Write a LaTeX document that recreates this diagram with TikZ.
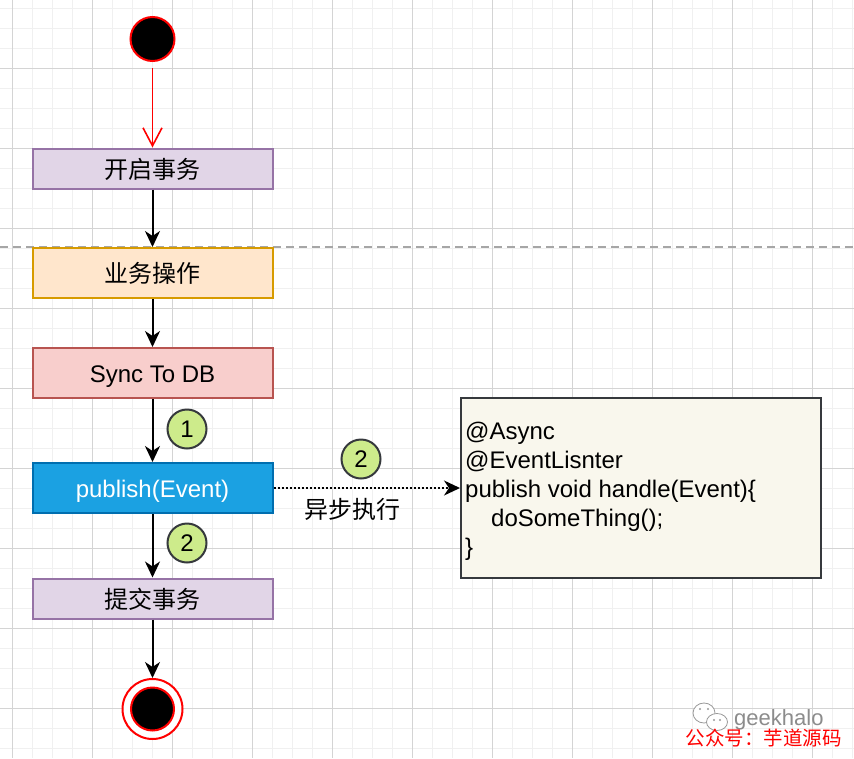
\documentclass[tikz,border=0pt]{standalone}
\usepackage{fontspec}
\setmainfont{Liberation Sans}
\newfontfamily\cjk{Noto Sans CJK SC}
\usetikzlibrary{arrows.meta}
\definecolor{pfill}{HTML}{E1D5E7}\definecolor{pdraw}{HTML}{9673A6}
\definecolor{ofill}{HTML}{FFE6CC}\definecolor{odraw}{HTML}{D79B00}
\definecolor{rfill}{HTML}{F8CECC}\definecolor{rdraw}{HTML}{B85450}
\definecolor{bfill}{HTML}{1BA1E2}\definecolor{bdraw}{HTML}{006EAF}
\definecolor{gfill}{HTML}{CDEB8B}\definecolor{gdraw}{HTML}{36393D}
\definecolor{cfill}{HTML}{F9F7ED}
\definecolor{minorc}{HTML}{F0F0F0}\definecolor{majorc}{HTML}{D4D4D4}
\definecolor{redc}{HTML}{FF0000}
\begin{document}
\begin{tikzpicture}[x=1pt,y=-1pt,
  txt/.style={font=\fontsize{24}{29}\selectfont},
  box/.style={rectangle, draw, line width=2pt, minimum width=240pt, inner sep=0pt, text height=19pt, text depth=0pt, txt},
  startc/.style={circle, fill=black, draw=redc, line width=2pt, minimum size=44pt, inner sep=0pt},
  num/.style={circle, draw=gdraw, fill=gfill, line width=2pt, minimum size=39pt, inner sep=0pt, txt},
  arr/.style={draw=black, line width=2pt, -{Stealth[length=16pt,width=15pt,inset=5pt]}},
  redarr/.style={draw=redc, line width=1.6pt, shorten <=6pt, -{Straight Barb[length=18pt,width=19pt]}},
  minorgrid/.style={draw=minorc, line width=1pt},
  majorgrid/.style={draw=majorc, line width=1pt}]
\useasboundingbox (0,0) rectangle (854,758);
\fill[white] (0,0) rectangle (854,758);
% grid
\foreach \x in {12.5,32.5,...,852.5} \draw[minorgrid] (\x,0) -- (\x,758);
\foreach \y in {8,28,...,748} \draw[minorgrid] (0,\y) -- (854,\y);
\foreach \x in {12.5,92.5,...,812.5} \draw[majorgrid] (\x,0) -- (\x,758);
\foreach \y in {68,148,...,708} \draw[majorgrid] (0,\y) -- (854,\y);
% dashed separator
\draw[draw=gray!70, line width=1.5pt, dash pattern=on 8pt off 5pt] (0,247) -- (854,247);
% nodes
\node[startc] (s) at (152.5,39) {};
\node[box, fill=pfill, draw=pdraw, minimum height=40pt] (a) at (152.5,168.5) {\cjk 开启事务};
\node[box, fill=ofill, draw=odraw, minimum height=50pt] (b) at (152.5,273) {\cjk 业务操作};
\node[box, fill=rfill, draw=rdraw, minimum height=50pt] (d) at (152.5,373) {Sync To DB};
\node[box, fill=bfill, draw=bdraw, minimum height=50pt, text=white] (p) at (152.5,488) {publish(Event)};
\node[box, fill=pfill, draw=pdraw, minimum height=40pt] (e) at (152.5,598.5) {\cjk 提交事务};
\node[circle, fill=white, draw=redc, line width=2pt, minimum size=60pt, inner sep=0pt] (f) at (152.5,709) {};
\node[circle, fill=black, draw=redc, line width=2pt, minimum size=43pt, inner sep=0pt] (fi) at (152.5,709) {};
\node[rectangle, draw=gdraw, fill=cfill, line width=2pt, minimum width=360pt, minimum height=180pt] (c) at (641,488) {};
\node[txt, anchor=west, align=left, inner sep=0pt] (ct) at (465,491) {@Async\\@EventLisnter\\publish void handle(Event)\{\\\hspace*{26pt}doSomeThing();\\\}};
\node[num] (n1) at (187,429) {1};
\node[num] (n2) at (187,543) {2};
\node[num] (n3) at (361,459) {2};
\node[txt, inner sep=0pt] (lbl) at (352.5,509) {\cjk 异步执行};
% connectors
\draw[redarr] (s) -- (a);
\draw[arr] (a) -- (b);
\draw[arr] (b) -- (d);
\draw[arr] (d) -- (p);
\draw[arr] (p) -- (e);
\draw[arr] (e) -- (f);
\draw[arr, dotted] (p) -- (c);
% watermark
\draw[gray!80, line width=0.8pt, fill=white] (704,713) ellipse (11 and 10);
\draw[gray!80, line width=0.8pt, fill=white] (717,722) ellipse (10.5 and 8.5);
\fill[gray!80] (700,709) circle (1.2) (708,709) circle (1.2) (714,720) circle (1.1) (720,720) circle (1.1);
\node[font=\fontsize{22}{24}\selectfont, text=gray!90, anchor=base west, inner sep=0pt] (wm) at (734,725) {geekhalo};
\node[font=\cjk\fontsize{19.5}{22}\selectfont, text=redc, inner sep=0pt] (wr) at (763.5,738) {公众号：芋道源码};
\end{tikzpicture}
\end{document}
